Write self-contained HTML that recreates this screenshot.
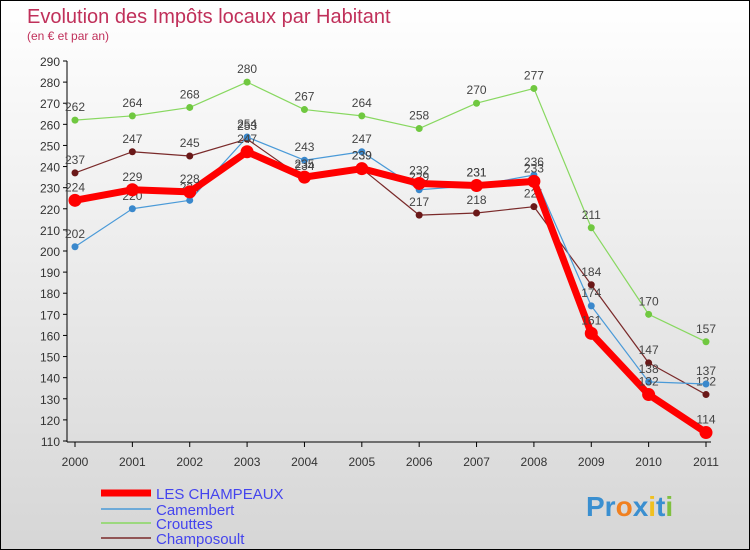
<!DOCTYPE html>
<html><head><meta charset="utf-8"><style>
body{margin:0}
#c{width:748px;height:548px;border:1px solid #000;background:linear-gradient(#ffffff,#d6d6d6);position:relative;overflow:hidden;font-family:"Liberation Sans",sans-serif}
</style></head><body>
<div id="c">
<svg id="s" width="748" height="548" xmlns="http://www.w3.org/2000/svg" font-family="Liberation Sans, sans-serif">
<text x="26" y="22" font-size="20" fill="#c0305a">Evolution des Impôts locaux par Habitant</text>
<text x="26" y="39" font-size="12" fill="#c0305a">(en € et par an)</text>
<text x="585" y="515" font-size="28" font-weight="bold" fill="#3a8fd0">Pr<tspan fill="#f08020">o</tspan><tspan fill="#3a8fd0">x</tspan><tspan fill="#f0c020">i</tspan>t<tspan fill="#80c040">i</tspan></text>
</svg>
</div>
<script>
const years=["2000","2001","2002","2003","2004","2005","2006","2007","2008","2009","2010","2011"];
const yTicks=[110,120,130,140,150,160,170,180,190,200,210,220,230,240,250,260,270,280,290];
const champeaux=[224,229,228,247,235,239,232,231,233,161,132,114];
const camembert=[202,220,224,254,243,247,229,231,236,174,138,137];
const crouttes=[262,264,268,280,267,264,258,270,277,211,170,157];
const champosoult=[237,247,245,253,234,239,217,218,221,184,147,132];
const svg=document.getElementById('s');
const NS='http://www.w3.org/2000/svg';
const x=i=>74+i*(705-74)/11;
const y=v=>440-(v-110)*(380/180);
function mk(t,a,p){const e=document.createElementNS(NS,t);for(const k in a)e.setAttribute(k,a[k]);(p||svg).appendChild(e);return e;}
const ax=mk('line',{x1:66,y1:60,x2:66,y2:441,stroke:'#000'});


const bx=mk('line',{x1:66,y1:441,x2:710,y2:441,stroke:'#000'});


yTicks.forEach(v=>{
 const l=mk('line',{x1:62,y1:y(v),x2:66,y2:y(v),stroke:'#000'});
 
 
 const t=mk('text',{x:59,y:y(v)+5,'text-anchor':'end','font-size':12,fill:'#333'});
 t.textContent=v;
 
 
});
years.forEach((yr,i)=>{
 const l=mk('line',{x1:x(i),y1:441,x2:x(i),y2:446,stroke:'#000'});
 
 
 const t=mk('text',{x:x(i),y:465,'text-anchor':'middle','font-size':12,fill:'#333'});
 t.textContent=yr;
 
 
});
function series(name,data,color,w,r,dot){
 const g=mk('g',{});
 
 
 const p=mk('polyline',{points:data.map((v,i)=>x(i)+','+y(v)).join(' '),fill:'none',stroke:color,'stroke-width':w,'stroke-linejoin':'round'},g);
 
 
 data.forEach((v,i)=>{
  const c=mk('circle',{cx:x(i),cy:y(v),r:r,fill:dot},g);
  
  
  const t=mk('text',{x:x(i),y:y(v)-9,'text-anchor':'middle','font-size':12,fill:'#444'},g);
  t.textContent=v;
  
  
 });
}
series('crouttes',crouttes,'#88d860',1.2,3.5,'#70c840');
series('champosoult',champosoult,'#7a2a2a',1.2,3.5,'#6a1818');
series('camembert',camembert,'#4a9ad8',1.2,3.5,'#3a88cc');
series('champeaux',champeaux,'#ff0000',7,6.5,'#ff0000');
const leg=[['LES CHAMPEAUX','#ff0000',7,492],['Camembert','#4a9ad8',1.5,508],['Crouttes','#88d860',1.5,522],['Champosoult','#7a2a2a',1.5,537]];
leg.forEach(([n,c,w,yy])=>{
 const l=mk('line',{x1:100,y1:yy,x2:150,y2:yy,stroke:c,'stroke-width':w});
 
 
 const t=mk('text',{x:155,y:yy+6,'font-size':15,fill:'#4444ee'});
 t.textContent=n;
 
 
});
</script>
</body></html>
